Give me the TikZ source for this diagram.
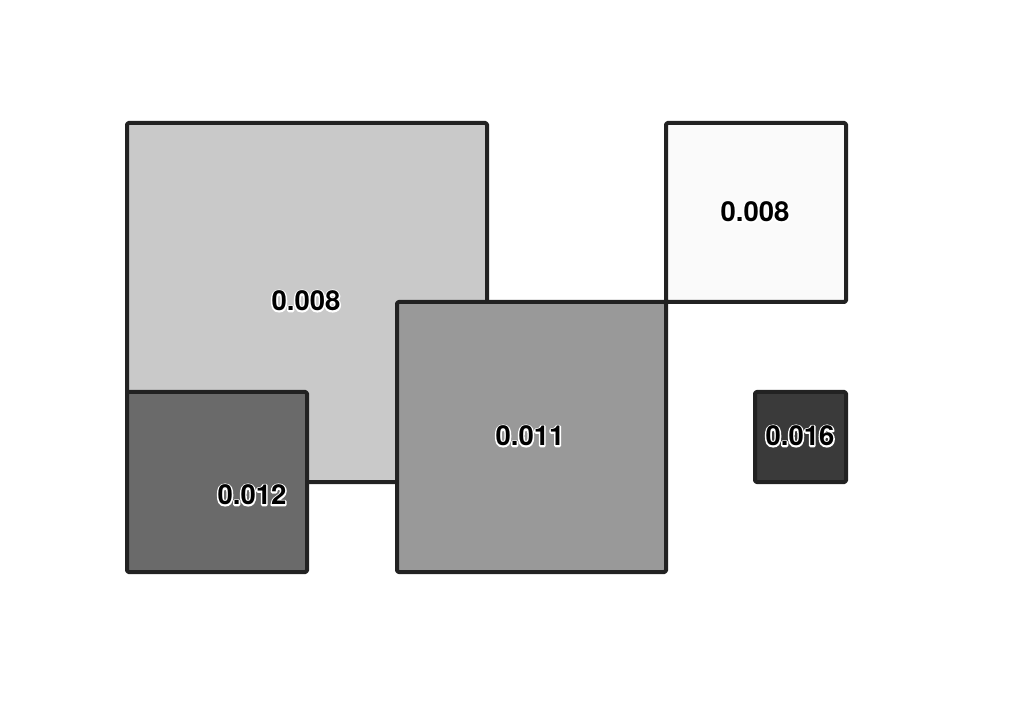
\documentclass[tikz,border=0pt]{standalone}
\usepackage{fontspec}
\setmainfont{TeX Gyre Heros}
\definecolor{edge}{HTML}{222222}
\definecolor{cA}{HTML}{C9C9C9}
\definecolor{cB}{HTML}{FAFAFA}
\definecolor{cC}{HTML}{999999}
\definecolor{cD}{HTML}{6A6A6A}
\definecolor{cE}{HTML}{3A3A3A}
\newcommand{\halotext}[1]{\rlap{\color{white}\special{pdf:code 1 Tr 3 w 1 j}#1\special{pdf:code 0 Tr}}#1}
\begin{document}
\begin{tikzpicture}[x=1pt,y=-1pt,
  sq/.style={draw=edge,line width=4pt,rounded corners=1.5pt,line join=round},
  lbl/.style={font=\fontsize{27.5}{27.5}\selectfont\bfseries,inner sep=0pt,text=black}]
\useasboundingbox (0,0) rectangle (1012,708);
\fill[white] (0,0) rectangle (1012,708);
\draw[sq,fill=cA] (127,123) rectangle (487,482) coordinate (qa);
\draw[sq,fill=cB] (666,123) rectangle (846,302) coordinate (qb);
\draw[sq,fill=cC] (397,302) rectangle (666,572) coordinate (qc);
\draw[sq,fill=cD] (127,392) rectangle (307,572) coordinate (qd);
\draw[sq,fill=cE] (755,392) rectangle (846,482) coordinate (qe);
\node[lbl] (la) at (306,301) {\halotext{0.008}};
\node[lbl] (lb) at (755,212) {\halotext{0.008}};
\node[lbl] (lc) at (530,436) {\halotext{0.011}};
\node[lbl] (ld) at (252,495) {\halotext{0.012}};
\node[lbl] (le) at (800,436) {\halotext{0.016}};
\end{tikzpicture}
\end{document}
